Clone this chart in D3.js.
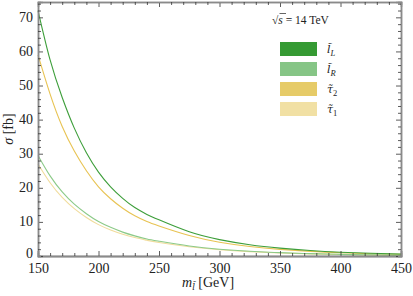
<!DOCTYPE html>
<html>
<head>
<meta charset="utf-8">
<script src="https://cdn.jsdelivr.net/npm/d3@7"></script>
<style>
  body { margin: 0; background: #fff; }
</style>
</head>
<body>
<svg id="chart"></svg>
<script>
const WIDTH = 413;
const HEIGHT = 296;
const MARGIN = { top: 2, bottom: 40, left: 38, right: 12 };
const SERIF = "'Liberation Serif', serif";
const SYMB = "'DejaVu Serif', serif";

// Datos.
const masses = [150, 160, 170, 180, 190, 200, 210, 220, 230, 240, 250, 275, 300, 325, 350, 375, 400, 425, 450];
const sigma_lL = [72, 57.5, 46.5, 37.5, 30.3, 24.6, 20.3, 16.9, 14.2, 12.2, 10.6, 7.1, 4.8, 3.3, 2.3, 1.6, 1.12, 0.8, 0.57];
const sigma_lR = [29.5, 23.5, 18.8, 15.2, 12.4, 10.1, 8.4, 7.0, 5.9, 5.0, 4.35, 2.95, 2.0, 1.4, 0.98, 0.69, 0.49, 0.35, 0.25];
const sigma_tau2 = [59, 47.5, 38, 30.8, 25, 20.3, 16.8, 14.0, 11.8, 10.1, 8.8, 6.0, 4.05, 2.8, 1.95, 1.35, 0.95, 0.67, 0.48];
const sigma_tau1 = [27, 21.5, 17.2, 13.9, 11.3, 9.2, 7.65, 6.4, 5.4, 4.6, 3.95, 2.7, 1.83, 1.28, 0.9, 0.63, 0.45, 0.32, 0.23];

const xTicks = [150, 200, 250, 300, 350, 400, 450];
const yTicks = [0, 10, 20, 30, 40, 50, 60, 70];

const series = [
    { name: "l\u0303", sub: "L", values: sigma_lL, line: "#3d9e3a", swatch: "#359a33" },
    { name: "l\u0303", sub: "R", values: sigma_lR, line: "#8cca88", swatch: "#86c586" },
    { name: "τ\u0303", sub: "2", values: sigma_tau2, line: "#e8c352", swatch: "#e6cb68" },
    { name: "τ\u0303", sub: "1", values: sigma_tau1, line: "#f1dc9c", swatch: "#f1e0a4" }
];

const width = WIDTH - MARGIN.left - MARGIN.right;
const height = HEIGHT - MARGIN.top - MARGIN.bottom;

const svg = d3.select('svg#chart')
                .attr('width', WIDTH)
                .attr('height', HEIGHT)
                .style('font-family', SERIF);

const g = svg.append('g')
                .attr('transform', `translate(${MARGIN.left}, ${MARGIN.top})`);

const escalaX = d3.scaleLinear().domain([150, 450]).range([0, width]);
const escalaY = d3.scaleLinear().domain([0, 74.5]).range([height, 0]);

// Curvas
const linea = d3.line()
                .x(d => escalaX(d[0]))
                .y(d => escalaY(d[1]))
                .curve(d3.curveNatural);

// plotted in reverse so dark green ends on top
series.slice().reverse().forEach(s => {
    g.append('path')
        .datum(masses.map((m, i) => [m, s.values[i]]))
        .attr('d', linea)
        .attr('fill', 'none')
        .attr('stroke', s.line)
        .attr('stroke-width', 1.1);
});

// Marco con ticks hacia adentro
const frameColor = "#8a8a8a";
const minorX = d3.range(150, 451, 10).filter(v => v % 50 !== 0);
const minorY = d3.range(0, 74.5, 2).filter(v => v % 10 !== 0);

const ejeBottom = g.append('g').attr('transform', `translate(0, ${height})`)
    .call(d3.axisBottom(escalaX).tickValues(xTicks).tickSize(-5).tickPadding(10));
g.append('g').attr('transform', `translate(0, ${height})`)
    .call(d3.axisBottom(escalaX).tickValues(minorX).tickSize(-3).tickFormat(''));
g.append('g')
    .call(d3.axisTop(escalaX).tickValues(xTicks).tickSize(-5).tickFormat(''));
g.append('g')
    .call(d3.axisTop(escalaX).tickValues(minorX).tickSize(-3).tickFormat(''));
const ejeLeft = g.append('g')
    .call(d3.axisLeft(escalaY).tickValues(yTicks).tickSize(-5).tickPadding(5));
g.append('g')
    .call(d3.axisLeft(escalaY).tickValues(minorY).tickSize(-3).tickFormat(''));
g.append('g').attr('transform', `translate(${width}, 0)`)
    .call(d3.axisRight(escalaY).tickValues(yTicks).tickSize(-5).tickFormat(''));
g.append('g').attr('transform', `translate(${width}, 0)`)
    .call(d3.axisRight(escalaY).tickValues(minorY).tickSize(-3).tickFormat(''));

g.selectAll('.domain').attr('stroke', frameColor).attr('stroke-width', 1.5);
g.selectAll('.tick line').attr('stroke', '#333').attr('stroke-width', 0.8);
g.selectAll('g').attr('font-family', SERIF);
g.selectAll('.tick text')
    .style('font-family', SERIF)
    .style('font-size', '14px')
    .attr('fill', '#222');
ejeBottom.selectAll('.tick text').attr('dy', '0.5em');
ejeLeft.selectAll('.tick text').attr('dy', '0.28em');
ejeLeft.selectAll('.tick text').filter(d => d === 0).attr('dy', '0.1em');
ejeBottom.select('.domain').attr('stroke', '#222');

// Titulos de ejes
const yLabel = svg.append('text')
    .attr('transform', `translate(13, ${MARGIN.top + height / 2}) rotate(-90)`)
    .attr('text-anchor', 'middle')
    .style('font-size', '14px')
    .attr('fill', '#222');
yLabel.append('tspan').style('font-style', 'italic').text('σ');
yLabel.append('tspan').text(' [fb]');

const xLabel = svg.append('text')
    .attr('x', 182)
    .attr('y', 287)
    .style('font-size', '14px')
    .attr('fill', '#222');
xLabel.append('tspan').style('font-style', 'italic').text('m');
xLabel.append('tspan').style('font-family', SYMB).style('font-style', 'italic')
    .style('font-size', '8.5px').attr('dy', 3).text('l\u0303');
xLabel.append('tspan').attr('dy', -3).text(' [GeV]');

// Leyenda
const legend = svg.append('g').attr('transform', 'translate(270, 0)');

const sqrtText = legend.append('text')
    .attr('x', 2).attr('y', 24)
    .style('font-size', '11.5px')
    .attr('fill', '#222');
sqrtText.append('tspan').text('√');
sqrtText.append('tspan').style('font-style', 'italic').text('s');
sqrtText.append('tspan').text('  = 14 TeV');
legend.append('line')
    .attr('x1', 9.5).attr('x2', 16)
    .attr('y1', 13.5).attr('y2', 13.5)
    .attr('stroke', '#222').attr('stroke-width', 0.7);

series.forEach((s, i) => {
    const y0 = 42 + i * 20;
    legend.append('rect')
        .attr('x', 10).attr('y', y0)
        .attr('width', 37).attr('height', 14)
        .attr('fill', s.swatch);
    const t = legend.append('text')
        .attr('x', 57).attr('y', y0 + 11)
        .attr('fill', '#222');
    t.append('tspan').style('font-family', SYMB).style('font-style', 'italic')
        .style('font-size', '11px').text(s.name);
    t.append('tspan').style('font-style', s.sub.match(/[A-Z]/) ? 'italic' : 'normal')
        .style('font-size', '8.5px').attr('dy', 3).text(s.sub);
});
</script>
</body>
</html>
